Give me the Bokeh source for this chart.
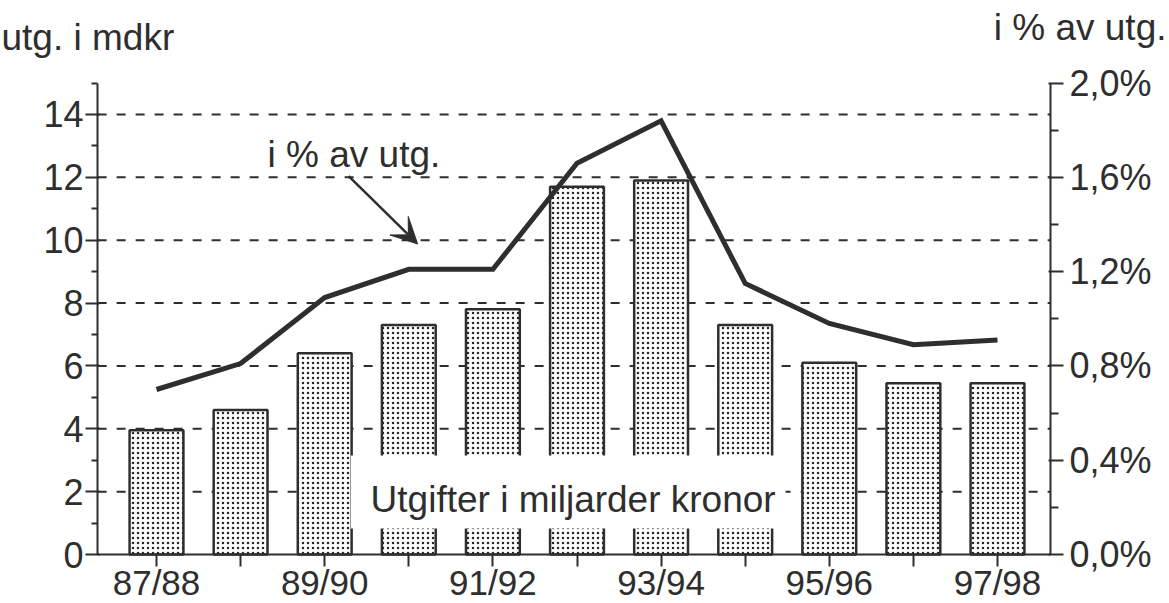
from bokeh.plotting import figure
from bokeh.models import (Range1d, LinearAxis, FixedTicker, ColumnDataSource,
                          Label, BoxAnnotation, Arrow, VeeHead, CustomJSTickFormatter)
from bokeh.embed import file_html
from bokeh.resources import INLINE

# ---- data ----
categories = ["87/88", "88/89", "89/90", "90/91", "91/92", "92/93",
              "93/94", "94/95", "95/96", "96/97", "97/98"]
utgifter_mdkr = [3.95, 4.6, 6.4, 7.3, 7.8, 11.7, 11.9, 7.3, 6.1, 5.45, 5.45]
andel_pct = [0.70, 0.81, 1.09, 1.21, 1.21, 1.66, 1.84, 1.15, 0.98, 0.89, 0.91]
x_tick_labels = ["87/88", "", "89/90", "", "91/92", "", "93/94", "", "95/96", "", "97/98"]
left_ticks = [0, 2, 4, 6, 8, 10, 12, 14]
left_minor = [1, 3, 5, 7, 9, 11, 13, 15]
right_ticks = [0.0, 0.4, 0.8, 1.2, 1.6, 2.0]
right_minor = [0.2, 0.6, 1.0, 1.4, 1.8]
right_tick_labels = ["0,0%", "0,4%", "0,8%", "1,2%", "1,6%", "2,0%"]

INK = "#2e2e2e"
FONT = "Liberation Sans"
FS = "36px"

# plot geometry (pixel scale of the data area)
W, H = 1169, 603
PX_X, X0 = 84.1, 156.0      # px per category, pixel of first category
PX_Y, Y0 = 31.43, 554.0     # px per mdkr, pixel of zero
XMIN, XMAX = -0.70, 10.63   # axis extents (data)
YMAX, PMAX = 15.0, 2.0

xs = list(range(len(categories)))
src = ColumnDataSource(dict(x=xs, cat=categories, utg=utgifter_mdkr, pct=andel_pct))

y_lo, y_hi = -(H - Y0) / PX_Y, Y0 / PX_Y
p = figure(width=W, height=H, output_backend="svg", toolbar_location=None, title=None,
           x_range=Range1d(-X0 / PX_X, (W - X0) / PX_X),
           y_range=Range1d(y_lo, y_hi),
           min_border=0, x_axis_location=None, y_axis_location=None)
p.outline_line_color = None
p.background_fill_color = "white"
p.border_fill_color = "white"
p.extra_y_ranges = {"pct": Range1d(y_lo * PMAX / YMAX, y_hi * PMAX / YMAX)}

p.xgrid.visible = False
p.ygrid.visible = False

# dashed reference lines at the left major ticks, between the two axes
grid_y = left_ticks[1:]
p.segment(x0=XMIN, x1=XMAX, y0=grid_y, y1=grid_y,
          line_color=INK, line_width=2, line_dash="9 10")

# bars
p.vbar(x="x", top="utg", bottom=0, width=0.64, source=src,
       fill_color="white", line_color=INK, line_width=2.5,
       hatch_pattern="dot", hatch_color="#262626", hatch_scale=5, hatch_weight=3)

# line (right axis)
p.line(x="x", y="pct", y_range_name="pct", source=src,
       line_color=INK, line_width=5, line_join="miter")

# axes
xa = LinearAxis(fixed_location=0, bounds=(XMIN, XMAX),
                ticker=FixedTicker(ticks=xs),
                formatter=CustomJSTickFormatter(args=dict(lbls=x_tick_labels),
                                                code="return lbls[Math.round(tick)] || ''"))
ya = LinearAxis(fixed_location=XMIN, bounds=(0, YMAX),
                ticker=FixedTicker(ticks=left_ticks, minor_ticks=left_minor))
ra = LinearAxis(fixed_location=XMAX, y_range_name="pct", bounds=(0, PMAX),
                ticker=FixedTicker(ticks=right_ticks, minor_ticks=right_minor),
                formatter=CustomJSTickFormatter(
                    args=dict(tvals=right_ticks, tlabels=right_tick_labels),
                    code="""
                    for (let i = 0; i < tvals.length; i++) {
                        if (Math.abs(tvals[i] - tick) < 1e-9) return tlabels[i];
                    }
                    return '';
                    """))
for ax in (xa, ya, ra):
    ax.axis_line_color = INK
    ax.axis_line_width = 2
    ax.major_tick_line_color = INK
    ax.major_tick_line_width = 2
    ax.minor_tick_line_color = INK
    ax.minor_tick_line_width = 2
    ax.major_label_text_font = FONT
    ax.major_label_text_font_size = FS
    ax.major_label_text_color = INK

xa.major_tick_out = 12
xa.major_tick_in = 0
xa.minor_tick_line_color = None
xa.major_label_standoff = -4
xa.major_label_text_font_size = "35px"

ya.major_tick_out = 12
ya.major_tick_in = 2
ya.minor_tick_out = 6
ya.minor_tick_in = 0
ya.major_label_standoff = 2

ra.major_tick_out = 13
ra.major_tick_in = 2
ra.minor_tick_out = 8
ra.minor_tick_in = 0
ra.major_label_standoff = 6

p.add_layout(xa, "below")
p.add_layout(ya, "left")
p.add_layout(ra, "right")

# axis titles
p.add_layout(Label(x=(1 - X0) / PX_X, y=16.45, text="utg. i mdkr", text_align="left",
                   text_baseline="alphabetic", text_font=FONT, text_font_size="37px",
                   text_color=INK))
p.add_layout(Label(x=(1166 - X0) / PX_X, y=16.77, text="i % av utg.", text_align="right",
                   text_baseline="alphabetic", text_font=FONT, text_font_size="37px",
                   text_color=INK))

# series annotations
p.add_layout(Label(x=1.32, y=12.74, text="i % av utg.", text_align="left",
                   text_baseline="alphabetic", text_font=FONT, text_font_size="37px",
                   text_color=INK))
p.add_layout(Arrow(end=VeeHead(size=26, fill_color=INK, line_color=INK),
                   x_start=2.285, y_start=12.04, x_end=3.105, y_end=9.88,
                   line_color=INK, line_width=2.5))

p.add_layout(BoxAnnotation(left=2.31, right=7.48, top=3.15, bottom=0.83,
                           fill_color="white", fill_alpha=1.0, line_alpha=0))
p.add_layout(Label(x=2.546, y=1.75, text="Utgifter i miljarder kronor",
                   text_align="left", text_baseline="alphabetic", text_font=FONT,
                   text_font_size="37px", text_color=INK))

open("out.html", "w").write(file_html(p, INLINE))
